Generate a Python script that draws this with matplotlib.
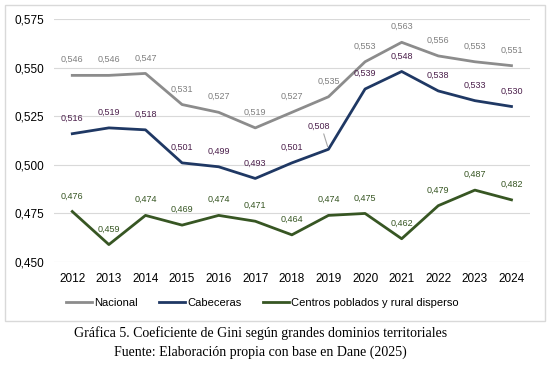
import numpy as np
import matplotlib
matplotlib.use("Agg")
from matplotlib import pyplot as plt
from matplotlib.patches import Rectangle

years = [2012, 2013, 2014, 2015, 2016, 2017, 2018, 2019, 2020, 2021, 2022, 2023, 2024]
nacional = [0.546, 0.546, 0.547, 0.531, 0.527, 0.519, 0.527, 0.535, 0.553, 0.563, 0.556, 0.553, 0.551]
cabeceras = [0.516, 0.519, 0.518, 0.501, 0.499, 0.493, 0.501, 0.508, 0.539, 0.548, 0.538, 0.533, 0.530]
centros = [0.476, 0.459, 0.474, 0.469, 0.474, 0.471, 0.464, 0.474, 0.475, 0.462, 0.479, 0.487, 0.482]
yticks = [0.450, 0.475, 0.500, 0.525, 0.550, 0.575]

plt.rcParams["font.family"] = ["Liberation Sans", "DejaVu Sans"]

fig = plt.figure(figsize=(5.53, 3.65), dpi=100)
ax = fig.add_axes([0.0976, 0.282, 0.8604, 0.666])

x = np.arange(len(years))
series = [
    ("Nacional", nacional, "#8c8c8c", "#7f7f7f"),
    ("Cabeceras", cabeceras, "#1f3864", "#4b1f4b"),
    ("Centros poblados y rural disperso", centros, "#375623", "#375623"),
]
for name, vals, col, lcol in series:
    ax.plot(x, vals, color=col, lw=2, label=name)
    for i, v in enumerate(vals):
        dy = 8
        dx = 0
        if name == "Cabeceras" and years[i] == 2019:
            dx, dy = -7, 13
        ax.annotate(f"{v:.3f}".replace(".", ","), (i, v), xytext=(dx, dy),
                    textcoords="offset points", ha="center", va="bottom",
                    fontsize=6.5, color=lcol)

# leader line for 2019 cabeceras label
i19 = years.index(2019)
ax.annotate("", (i19, cabeceras[i19]), xytext=(-4, 13), textcoords="offset points",
            arrowprops=dict(arrowstyle="-", color="#a6a6a6", lw=0.8))

ax.set_xlim(-0.5, len(years) - 0.5)
ax.set_ylim(0.450, 0.575)
ax.set_xticks(x)
ax.set_xticklabels([str(y) for y in years], fontsize=8.5)
ax.set_yticks(yticks)
ax.set_yticklabels([f"{t:.3f}".replace(".", ",") for t in yticks], fontsize=8.5)
ax.tick_params(length=0, pad=8)
ax.tick_params(axis="y", pad=7)
ax.grid(axis="y", color="#d9d9d9", lw=0.8)
ax.set_axisbelow(True)
for s in ax.spines.values():
    s.set_visible(False)

fig.legend(loc="center", bbox_to_anchor=(0.474, 0.17), ncol=3, frameon=False,
           fontsize=8, handlelength=2.4, columnspacing=1.9, handletextpad=0.15)

fig.patches.append(Rectangle((5 / 553, 1 - 321 / 365), 540 / 553, 316 / 365,
                             transform=fig.transFigure, fill=False,
                             edgecolor="#d9d9d9", lw=1))

fig.text(0.471, 1 - 333 / 365, "Gráfica 5. Coeficiente de Gini según grandes dominios territoriales",
         ha="center", va="center", fontsize=10, family="Liberation Serif")
fig.text(0.471, 1 - 352 / 365, "Fuente: Elaboración propia con base en Dane (2025)",
         ha="center", va="center", fontsize=10, family="Liberation Serif")

fig.savefig("out.png", dpi=100)
